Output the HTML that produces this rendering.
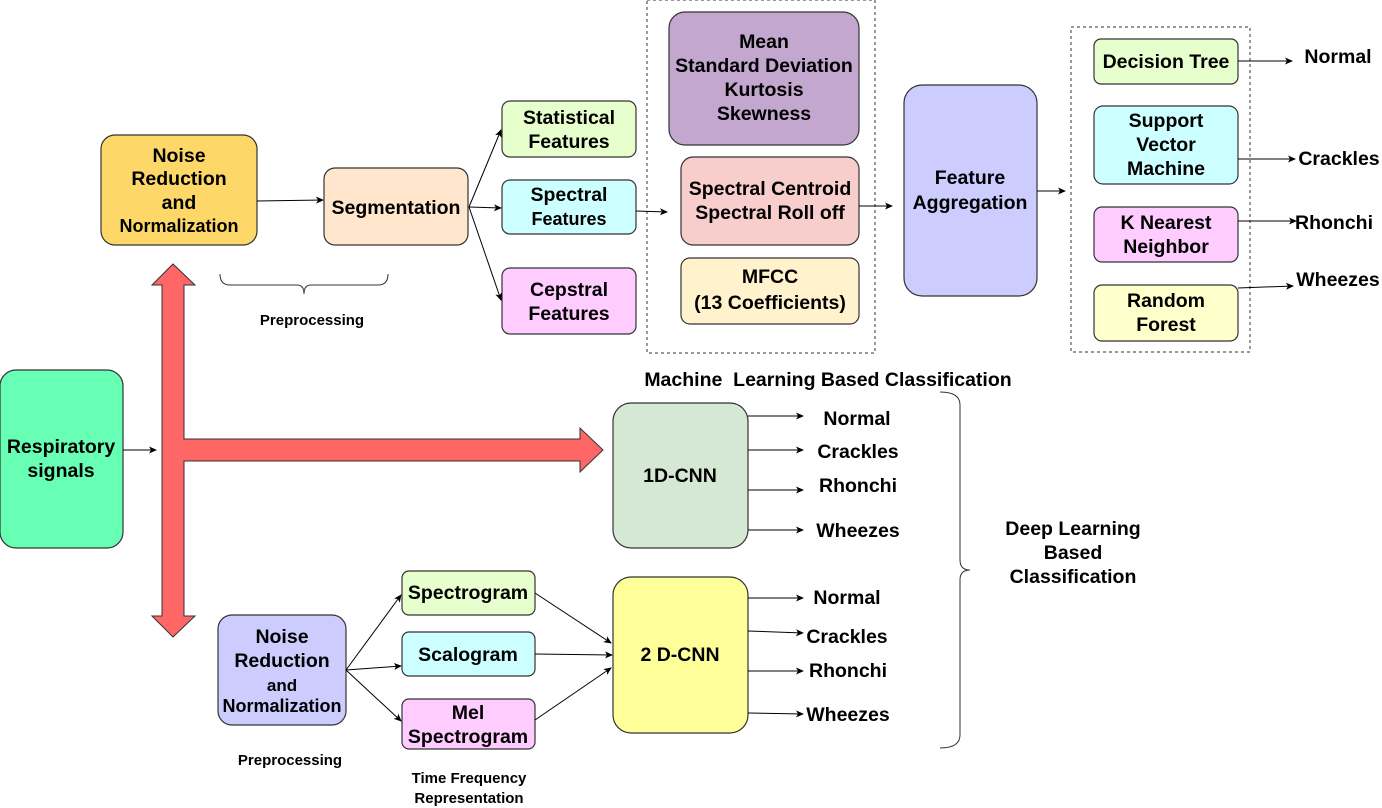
<!DOCTYPE html>
<html><head><meta charset="utf-8"><style>
html,body{margin:0;padding:0;background:#fff;}
svg{display:block;font-family:"Liberation Sans",Arial,sans-serif;font-weight:bold;}
</style></head><body>
<svg width="1382" height="808" viewBox="0 0 1382 808" xmlns="http://www.w3.org/2000/svg">
<defs>
<marker id="a" markerWidth="8" markerHeight="8" refX="7" refY="4" orient="auto" markerUnits="userSpaceOnUse"><path d="M0,0.5 L8,4 L0,7.5 L2,4 Z" fill="#000"/></marker>
</defs>
<g stroke="#333" stroke-width="1.2">
<rect x="101" y="135" width="156" height="110" rx="14" fill="#FDD868"/>
<rect x="324" y="168" width="144" height="77" rx="11" fill="#FFE6CC"/>
<rect x="502" y="101" width="134" height="56" rx="8" fill="#E6FFCC"/>
<rect x="502" y="180" width="134" height="54" rx="8" fill="#CCFFFF"/>
<rect x="502" y="268" width="134" height="66" rx="8" fill="#FFCCFF"/>
<rect x="669" y="12" width="190" height="133" rx="16" fill="#C3A7CF"/>
<rect x="681" y="157" width="178" height="88" rx="12" fill="#F8CECC"/>
<rect x="681" y="258" width="178" height="66" rx="9" fill="#FFF2CC"/>
<rect x="904" y="85" width="133" height="211" rx="18" fill="#CCCCFF"/>
<rect x="1094" y="39" width="144" height="45" rx="7" fill="#E6FFCC"/>
<rect x="1094" y="106" width="144" height="78" rx="9" fill="#CCFFFF"/>
<rect x="1094" y="207" width="144" height="55" rx="8" fill="#FFCCFF"/>
<rect x="1094" y="285" width="144" height="56" rx="8" fill="#FFFFCC"/>
<rect x="0" y="370" width="123" height="178" rx="16" fill="#66FFB3"/>
<rect x="613" y="403" width="135" height="145" rx="18" fill="#D5E8D4"/>
<rect x="613" y="577" width="135" height="156" rx="18" fill="#FFFF99"/>
<rect x="218" y="615" width="128" height="110" rx="14" fill="#CCCCFF"/>
<rect x="402" y="571" width="133" height="44" rx="7" fill="#E6FFCC"/>
<rect x="402" y="632" width="133" height="44" rx="7" fill="#CCFFFF"/>
<rect x="402" y="699" width="133" height="50" rx="7" fill="#FFCCFF"/>
</g>
<g fill="none" stroke="#333" stroke-width="1" stroke-dasharray="3,3">
<rect x="647" y="0" width="228" height="353"/>
<rect x="1071" y="27" width="179" height="325"/>
</g>
<path d="M162,285 L152,285 L173,264 L195,285 L184,285 L184,439 L580,439 L580,428 L603,450 L580,472 L580,461 L184,461 L184,616 L195,616 L173,637 L152,616 L162,616 Z" fill="#FF6666" stroke="#333" stroke-width="1"/>
<g stroke="#000" stroke-width="1" fill="none" marker-end="url(#a)">
<line x1="257" y1="201" x2="323" y2="200"/>
<line x1="469" y1="207" x2="501" y2="130"/>
<line x1="469" y1="207" x2="501" y2="208"/>
<line x1="469" y1="207" x2="501" y2="300"/>
<line x1="636" y1="211" x2="667" y2="212"/>
<line x1="859" y1="206" x2="892" y2="206"/>
<line x1="1037" y1="191" x2="1065" y2="191"/>
<line x1="1238" y1="61" x2="1292" y2="61"/>
<line x1="1238" y1="159" x2="1295" y2="159"/>
<line x1="1238" y1="221" x2="1296" y2="221"/>
<line x1="1238" y1="288" x2="1293" y2="286"/>
<line x1="123" y1="450" x2="156" y2="450"/>
<line x1="748" y1="416" x2="803" y2="416"/>
<line x1="748" y1="450" x2="803" y2="450"/>
<line x1="748" y1="490" x2="803" y2="490"/>
<line x1="748" y1="530" x2="803" y2="530"/>
<line x1="748" y1="598" x2="803" y2="598"/>
<line x1="748" y1="631" x2="803" y2="633"/>
<line x1="748" y1="671" x2="803" y2="671"/>
<line x1="748" y1="713" x2="803" y2="714"/>
<line x1="346" y1="670" x2="401" y2="595"/>
<line x1="346" y1="670" x2="401" y2="666"/>
<line x1="346" y1="670" x2="401" y2="721"/>
<line x1="535" y1="593" x2="611" y2="643"/>
<line x1="535" y1="654" x2="612" y2="655"/>
<line x1="535" y1="720" x2="611" y2="668"/>
</g>
<path d="M220,274 Q220,285 230,285 L297,285 Q304,285 304,294 Q304,285 311,285 L378,285 Q388,285 388,274" fill="none" stroke="#333" stroke-width="1"/>
<path d="M940,392 Q960,392 960,405 L960,560 Q960,570 970,570 Q960,570 960,580 L960,735 Q960,748 940,748" fill="none" stroke="#333" stroke-width="1"/>
<g font-size="19.5" text-anchor="middle" fill="#000">
<text x="179" y="162">Noise</text><text x="179" y="185">Reduction</text><text x="179" y="209">and</text><text x="179" y="232" font-size="18">Normalization</text>
<text x="396" y="214">Segmentation</text>
<text x="569" y="124">Statistical</text><text x="569" y="148">Features</text>
<text x="569" y="201">Spectral</text><text x="569" y="225" font-size="18">Features</text>
<text x="569" y="296">Cepstral</text><text x="569" y="320">Features</text>
<text x="764" y="48">Mean</text><text x="764" y="72">Standard Deviation</text><text x="764" y="96">Kurtosis</text><text x="764" y="120">Skewness</text>
<text x="770" y="195">Spectral Centroid</text><text x="770" y="219">Spectral Roll off</text>
<text x="770" y="283">MFCC</text><text x="770" y="309">(13 Coefficients)</text>
<text x="970" y="184">Feature</text><text x="970" y="209">Aggregation</text>
<text x="1166" y="68">Decision Tree</text>
<text x="1166" y="127">Support</text><text x="1166" y="151">Vector</text><text x="1166" y="175">Machine</text>
<text x="1166" y="229">K Nearest</text><text x="1166" y="253">Neighbor</text>
<text x="1166" y="307">Random</text><text x="1166" y="331">Forest</text>
<text x="1338" y="63">Normal</text><text x="1339" y="165">Crackles</text><text x="1334" y="229">Rhonchi</text><text x="1338" y="286">Wheezes</text>
<text x="828" y="386" xml:space="preserve">Machine  Learning Based Classification</text>
<text x="61" y="453">Respiratory</text><text x="61" y="477">signals</text>
<text x="680" y="482">1D-CNN</text>
<text x="680" y="661">2 D-CNN</text>
<text x="282" y="643">Noise</text><text x="282" y="667">Reduction</text><text x="282" y="691" font-size="17">and</text><text x="282" y="712" font-size="18">Normalization</text>
<text x="468" y="599">Spectrogram</text>
<text x="468" y="661">Scalogram</text>
<text x="468" y="719">Mel</text><text x="468" y="743">Spectrogram</text>
<text x="857" y="425">Normal</text><text x="858" y="458">Crackles</text><text x="858" y="492">Rhonchi</text><text x="858" y="537">Wheezes</text>
<text x="847" y="604">Normal</text><text x="847" y="643">Crackles</text><text x="848" y="677">Rhonchi</text><text x="848" y="721">Wheezes</text>
<text x="1073" y="535">Deep Learning</text><text x="1073" y="559">Based</text><text x="1073" y="583">Classification</text>
</g>
<g font-size="15" text-anchor="middle" fill="#000">
<text x="312" y="325">Preprocessing</text>
<text x="290" y="765">Preprocessing</text>
<text x="469" y="783">Time Frequency</text><text x="469" y="803">Representation</text>
</g>
</svg>
</body></html>
